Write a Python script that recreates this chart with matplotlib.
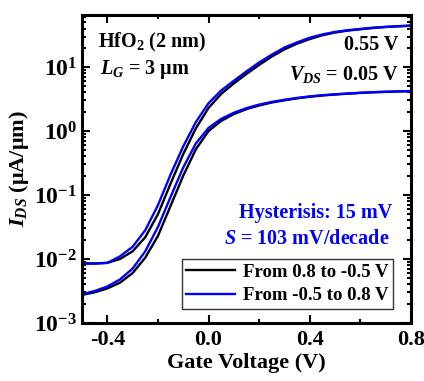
import math
import matplotlib
matplotlib.use("Agg")
import matplotlib.pyplot as plt
from matplotlib.ticker import FixedLocator, FixedFormatter, LogLocator, NullFormatter, FuncFormatter

plt.rcParams["font.family"] = ["Liberation Serif", "DejaVu Serif"]
plt.rcParams["font.weight"] = "bold"
plt.rcParams["mathtext.fontset"] = "custom"
plt.rcParams["mathtext.rm"] = "Liberation Serif:bold"
plt.rcParams["mathtext.bf"] = "Liberation Serif:bold"
plt.rcParams["mathtext.it"] = "Liberation Serif:italic:bold"

# Gate voltage sweep (V)
vg = [-0.50, -0.45, -0.40, -0.35, -0.30, -0.25, -0.20, -0.15, -0.10, -0.05,
      0.00, 0.05, 0.10, 0.15, 0.20, 0.25, 0.30, 0.35, 0.40, 0.45,
      0.50, 0.55, 0.60, 0.65, 0.70, 0.75, 0.80]

# Drain current (uA/um), VDS = 0.55 V
ids_055_down = [0.00851, 0.00851, 0.00871, 0.0100, 0.0132, 0.0219, 0.0501, 0.151, 0.437, 1.10,
                2.30, 3.80, 5.55, 7.80, 10.8, 14.6, 18.9, 23.2, 27.4, 31.4,
                34.6, 37.1, 38.9, 40.7, 42.2, 43.2, 44.2]
ids_055_up = [0.0085, 0.0085, 0.0087, 0.0110, 0.0155, 0.0282, 0.0692, 0.209, 0.575, 1.38,
              2.72, 4.30, 6.10, 8.55, 11.8, 15.6, 20.2, 24.3, 28.7, 32.3,
              35.4, 37.6, 39.4, 41.2, 42.5, 43.5, 44.5]

# Drain current (uA/um), VDS = 0.05 V
ids_005_down = [0.00275, 0.00302, 0.00347, 0.00427, 0.00603, 0.0105, 0.0229, 0.0676, 0.200, 0.520,
                1.00, 1.44, 1.84, 2.20, 2.51, 2.79, 3.02, 3.24, 3.43, 3.59,
                3.72, 3.83, 3.94, 4.03, 4.09, 4.15, 4.20]
ids_005_up = [0.00283, 0.00316, 0.00372, 0.00479, 0.00708, 0.0132, 0.0316, 0.0933, 0.269, 0.640,
              1.12, 1.55, 1.93, 2.28, 2.59, 2.85, 3.08, 3.29, 3.48, 3.63,
              3.75, 3.86, 3.96, 4.05, 4.11, 4.17, 4.22]

x_ticks = [-0.4, 0.0, 0.4, 0.8]
x_tick_labels = ["-0.4", "0.0", "0.4", "0.8"]
x_minor = [-0.2, 0.2, 0.6]

BLUE = "#0000ff"

fig = plt.figure(figsize=(4.24, 3.81), dpi=100)
ax = fig.add_axes([0.1934, 0.1522, 0.7759, 0.8084])

ax.plot(vg, ids_055_down, color="black", lw=1.7, label="From 0.8 to -0.5 V")
ax.plot(vg, ids_005_down, color="black", lw=1.7)
ax.plot(vg, ids_055_up, color=BLUE, lw=1.7, label="From -0.5 to 0.8 V")
ax.plot(vg, ids_005_up, color=BLUE, lw=1.7)

ax.set_yscale("log")
ax.set_xlim(-0.5, 0.8)
ax.set_ylim(1e-3, 65)

ax.xaxis.set_major_locator(FixedLocator(x_ticks))
ax.xaxis.set_major_formatter(FixedFormatter(x_tick_labels))
ax.xaxis.set_minor_locator(FixedLocator(x_minor))
ax.yaxis.set_major_locator(LogLocator(base=10, numticks=10))
ax.yaxis.set_minor_locator(LogLocator(base=10, subs=range(2, 10), numticks=20))
ax.yaxis.set_minor_formatter(NullFormatter())
ax.yaxis.set_major_formatter(FuncFormatter(lambda v, p: r"$\mathbf{10^{%d}}$" % round(math.log10(v))))

ax.tick_params(which="both", direction="in", top=True, right=True, width=1.5)
ax.tick_params(axis="y", labelsize=17)
ax.tick_params(axis="x", labelsize=16, pad=5)
ax.tick_params(which="major", length=6)
ax.tick_params(which="minor", length=3)
for s in ax.spines.values():
    s.set_linewidth(2.2)

ax.set_xlabel("Gate Voltage (V)", fontsize=16, fontweight="bold", labelpad=2)
ax.set_ylabel(r"$I_{DS}$ (μA/μm)", fontsize=16, fontweight="bold", labelpad=2)

ax.text(0.049, 0.912, r"HfO$_\mathbf{2}$ (2 nm)", transform=ax.transAxes, fontsize=14.5,
        fontweight="bold", ha="left", va="center")
ax.text(0.055, 0.822, r"$L_G$ = 3 μm", transform=ax.transAxes, fontsize=14.5,
        fontweight="bold", ha="left", va="center")
ax.text(0.963, 0.903, "0.55 V", transform=ax.transAxes, fontsize=14.5,
        fontweight="bold", ha="right", va="center")
ax.text(0.963, 0.808, r"$V_{DS}$ = 0.05 V", transform=ax.transAxes, fontsize=14.5,
        fontweight="bold", ha="right", va="center")
ax.text(0.942, 0.357, "Hysterisis: 15 mV", transform=ax.transAxes, fontsize=14.5,
        fontweight="bold", ha="right", va="center", color=BLUE)
ax.text(0.935, 0.273, r"$S$ = 103 mV/decade", transform=ax.transAxes, fontsize=14.5,
        fontweight="bold", ha="right", va="center", color=BLUE)

leg = ax.legend(loc="lower right", bbox_to_anchor=(0.945, 0.045), borderaxespad=0,
                fontsize=13.5, frameon=True, fancybox=False, handlelength=2.6,
                handletextpad=0.4, labelspacing=0.35, borderpad=0.25)
leg.get_frame().set_edgecolor("black")
leg.get_frame().set_linewidth(1.0)
for t in leg.get_texts():
    t.set_fontweight("bold")

fig.savefig("out.png", dpi=100)
